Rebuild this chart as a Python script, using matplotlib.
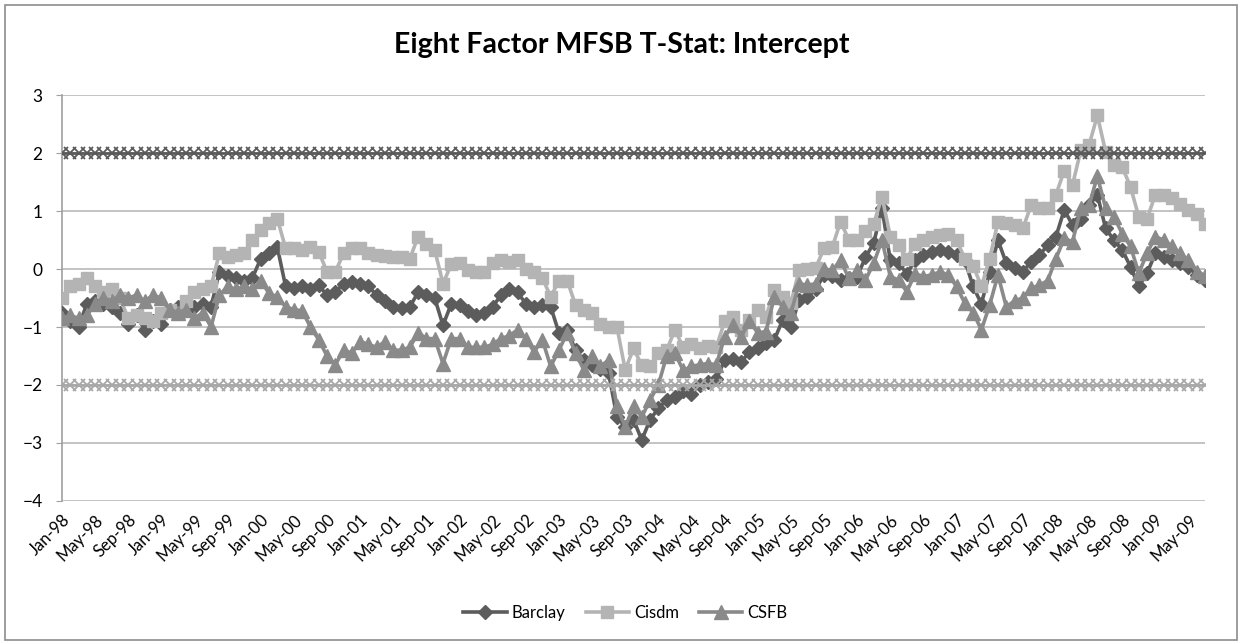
import matplotlib
matplotlib.use("Agg")
import matplotlib.pyplot as plt
from matplotlib.patches import Rectangle

plt.rcParams['font.family'] = ['Lato', 'DejaVu Sans']

# monthly t-stats, Jan-98 .. Jul-09
barclay = [
    -0.75, -0.9, -1.0, -0.6, -0.55, -0.6, -0.65, -0.75, -0.95, -0.8, -1.05, -0.9,
    -0.95, -0.7, -0.65, -0.6, -0.65, -0.6, -0.65, -0.05, -0.12, -0.15, -0.2, -0.15,
    0.18, 0.27, 0.38, -0.3, -0.32, -0.3, -0.35, -0.28, -0.45, -0.4, -0.25, -0.22,
    -0.25, -0.3, -0.45, -0.55, -0.65, -0.68, -0.65, -0.4, -0.45, -0.5, -0.97, -0.6,
    -0.62, -0.72, -0.8, -0.75, -0.65, -0.45, -0.35, -0.4, -0.6, -0.65, -0.62, -0.65,
    -1.1, -1.05, -1.4, -1.57, -1.65, -1.72, -1.8, -2.55, -2.72, -2.6, -2.95, -2.6,
    -2.4, -2.26, -2.2, -2.1, -2.15, -2.0, -1.95, -1.9, -1.57, -1.55, -1.6, -1.43,
    -1.37, -1.28, -1.22, -0.88, -1.0, -0.53, -0.48, -0.35, -0.1, -0.12, -0.19, -0.15,
    -0.13, 0.2, 0.45, 1.05, 0.15, 0.1, -0.08, 0.15, 0.24, 0.3, 0.33, 0.3,
    0.24, 0.15, -0.3, -0.6, -0.05, 0.5, 0.1, 0.01, -0.05, 0.13, 0.24, 0.41,
    0.56, 1.02, 0.76, 0.87, 1.1, 1.28, 0.7, 0.5, 0.33, 0.04, -0.3, -0.07,
    0.27, 0.21, 0.16, 0.1, 0.04, -0.1, -0.19,
]
cisdm = [
    -0.5, -0.3, -0.25, -0.15, -0.3, -0.4, -0.35, -0.5, -0.85, -0.8, -0.85, -0.9,
    -0.75, -0.7, -0.75, -0.55, -0.4, -0.35, -0.3, 0.27, 0.21, 0.24, 0.27, 0.5,
    0.67, 0.79, 0.87, 0.36, 0.36, 0.33, 0.38, 0.3, -0.05, -0.05, 0.27, 0.36,
    0.36, 0.28, 0.24, 0.22, 0.2, 0.2, 0.18, 0.56, 0.44, 0.33, -0.25, 0.08,
    0.1, -0.02, -0.05, -0.05, 0.1, 0.15, 0.13, 0.15, 0.0, -0.05, -0.15, -0.48,
    -0.2, -0.2, -0.62, -0.7, -0.76, -0.94, -1.0, -1.0, -1.74, -1.37, -1.66, -1.68,
    -1.45, -1.4, -1.05, -1.35, -1.3, -1.37, -1.33, -1.35, -0.9, -0.82, -1.05, -0.88,
    -0.7, -0.82, -0.36, -0.48, -0.59, -0.02, 0.0, 0.02, 0.36, 0.38, 0.82, 0.5,
    0.5, 0.65, 0.78, 1.25, 0.56, 0.41, 0.18, 0.44, 0.5, 0.56, 0.59, 0.61,
    0.5, 0.18, 0.06, -0.3, 0.18, 0.82, 0.79, 0.76, 0.7, 1.1, 1.05, 1.05,
    1.28, 1.7, 1.45, 2.05, 2.14, 2.65, 2.02, 1.8, 1.76, 1.42, 0.9, 0.87,
    1.28, 1.28, 1.22, 1.13, 1.02, 0.95, 0.78,
]
csfb = [
    -0.85, -0.8, -0.85, -0.8, -0.6, -0.5, -0.55, -0.45, -0.5, -0.45, -0.55, -0.45,
    -0.5, -0.7, -0.75, -0.7, -0.85, -0.75, -1.0, -0.45, -0.3, -0.35, -0.3, -0.35,
    -0.2, -0.42, -0.48, -0.65, -0.7, -0.72, -1.0, -1.22, -1.5, -1.65, -1.4, -1.45,
    -1.25, -1.3, -1.35, -1.25, -1.4, -1.4, -1.35, -1.1, -1.2, -1.2, -1.63, -1.2,
    -1.2, -1.35, -1.35, -1.35, -1.3, -1.2, -1.15, -1.05, -1.2, -1.43, -1.22, -1.68,
    -1.4, -1.1, -1.45, -1.74, -1.5, -1.68, -1.57, -2.37, -2.72, -2.37, -2.55, -2.26,
    -2.0, -1.5, -1.45, -1.75, -1.68, -1.65, -1.63, -1.65, -1.17, -0.97, -1.17, -0.9,
    -1.1, -1.08, -0.48, -0.65, -0.76, -0.25, -0.28, -0.25, 0.0, -0.02, 0.15, -0.16,
    -0.02, -0.19, 0.1, 0.5, -0.13, -0.19, -0.39, -0.08, -0.13, -0.1, -0.05, -0.1,
    -0.3, -0.59, -0.75, -1.05, -0.62, -0.1, -0.65, -0.55, -0.5, -0.33, -0.28, -0.2,
    0.18, 0.53, 0.47, 1.05, 1.1, 1.6, 1.05, 0.9, 0.61, 0.39, -0.07, 0.27,
    0.56, 0.5, 0.39, 0.27, 0.15, -0.05, -0.12,
]

tick_labels = [
    'Jan-98', 'May-98', 'Sep-98', 'Jan-99', 'May-99', 'Sep-99', 'Jan-00', 'May-00',
    'Sep-00', 'Jan-01', 'May-01', 'Sep-01', 'Jan-02', 'May-02', 'Sep-02', 'Jan-03',
    'May-03', 'Sep-03', 'Jan-04', 'May-04', 'Sep-04', 'Jan-05', 'May-05', 'Sep-05',
    'Jan-06', 'May-06', 'Sep-06', 'Jan-07', 'May-07', 'Sep-07', 'Jan-08', 'May-08',
    'Sep-08', 'Jan-09', 'May-09',
]

n = len(barclay)
x = list(range(n))
upper = [2.0] * n
lower = [-2.0] * n

fig = plt.figure(figsize=(12.39, 6.43), dpi=100)
ax = fig.add_axes([0.050, 0.221, 0.9226, 0.631])

# chart border
fig.patches.append(Rectangle((0.004, 0.004), 0.994, 0.988, transform=fig.transFigure,
                             fill=False, edgecolor='#8c8c8c', linewidth=1.2))

ax.plot(x, barclay, color='#5c5c5c', lw=2.6, marker='D', ms=7.5, label='Barclay', zorder=3)
ax.plot(x, cisdm, color='#b4b4b4', lw=2.6, marker='s', ms=8.5, label='Cisdm', zorder=3)
ax.plot(x, csfb, color='#8a8a8a', lw=2.6, marker='^', ms=9.5, label='CSFB', zorder=3)
ax.plot(x, upper, color='#5a5a5a', lw=2.0, marker='x', ms=9, mew=1.3, zorder=4)
ax.plot(x, lower, color='#a8a8a8', lw=2.0, marker='x', ms=9, mew=1.3, zorder=4)

ax.set_xlim(0, n - 1)
ax.set_ylim(-4, 3)
ax.set_yticks(range(-4, 4))
ax.set_xticks(range(0, n, 4)[:len(tick_labels)])
ax.set_xticklabels(tick_labels, rotation=45, ha='right', rotation_mode='anchor', fontsize=12)
ax.tick_params(axis='y', labelsize=12.5, length=4, color='#a0a0a0', pad=10)
ax.tick_params(axis='x', length=0, pad=8)
ax.grid(axis='y', color='#b9b9b9', lw=1.2)
ax.set_axisbelow(True)
for side in ['top', 'right', 'bottom']:
    ax.spines[side].set_visible(False)
ax.spines['left'].set_color('#a0a0a0')
ax.spines['left'].set_linewidth(1.2)

fig.text(0.502, 0.93, 'Eight Factor MFSB T-Stat: Intercept', ha='center', va='center',
         fontsize=20.5, fontweight='bold')

ax.legend(loc='center', bbox_to_anchor=(0.493, -0.276), ncol=3, frameon=False,
          fontsize=12, handlelength=2.6, columnspacing=1.2, handletextpad=0.3)

fig.savefig('out.png', dpi=100)
